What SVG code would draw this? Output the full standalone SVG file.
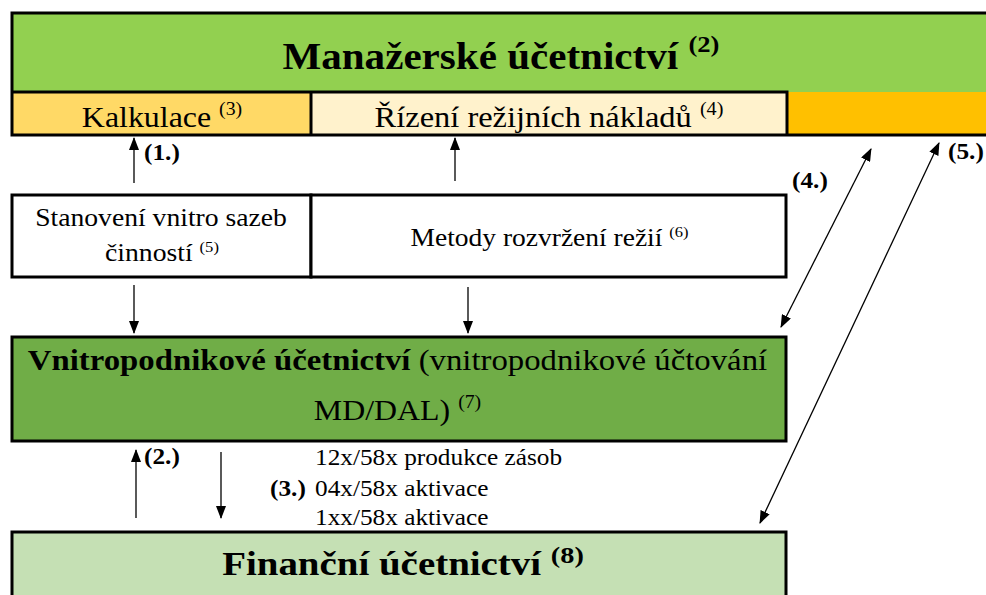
<svg xmlns="http://www.w3.org/2000/svg" width="986" height="595" viewBox="0 0 986 595">
<style>
.t{font-family:"Liberation Serif","Times New Roman",serif;fill:#000}
.b{font-weight:bold}
.bd{stroke:#000;stroke-width:3;fill:none;stroke-linecap:square}
.bx{stroke:#000;stroke-width:3}
.ar{stroke:#000;stroke-width:1.3;fill:none}
</style>
<defs>
<marker id="ah" markerWidth="13" markerHeight="10" refX="12" refY="5" orient="auto-start-reverse" markerUnits="userSpaceOnUse">
<path d="M0,0 L13,5 L0,10 z" fill="#000"/>
</marker>
</defs>
<rect width="986" height="595" fill="#fff"/>

<g id="manazerske">
<rect x="12" y="13" width="980" height="79" fill="#92D050"/>
<text class="t b" font-size="37" text-anchor="middle" transform="translate(501,69) scale(1.11,1)">Manažerské účetnictví <tspan font-size="24" dy="-17">(2)</tspan></text>
</g>
<g id="kalkulace">
<rect x="12" y="92" width="299" height="43" fill="#FFD966"/>
<text class="t" font-size="29" text-anchor="middle" transform="translate(162,127) scale(1.1,1)">Kalkulace <tspan font-size="18" dy="-12">(3)</tspan></text>
</g>
<g id="rizeni">
<rect x="311" y="92" width="476" height="43" fill="#FFF2CC"/>
<text class="t" font-size="29" text-anchor="middle" transform="translate(549,127) scale(1.12,1)">Řízení režijních nákladů <tspan font-size="18" dy="-12">(4)</tspan></text>
</g>
<g id="orange">
<rect x="787" y="92" width="200" height="43" fill="#FFC000"/>
</g>
<g id="top-borders">
<path class="bd" d="M12,13 H990 M12,13 V135 M12,92 H787 M12,135 H990 M311,92 V135 M787,92 V135"/>
</g>

<g id="stanoveni">
<rect x="12" y="195" width="299" height="82" fill="#fff" class="bx"/>
<text class="t" font-size="25" text-anchor="middle" transform="translate(161,226) scale(1.106,1)">Stanovení vnitro sazeb</text>
<text class="t" font-size="25" text-anchor="middle" transform="translate(162,261) scale(1.107,1)">činností <tspan font-size="15" dy="-9">(5)</tspan></text>
</g>
<g id="metody">
<rect x="311" y="195" width="475" height="82" fill="#fff" class="bx"/>
<text class="t" font-size="25" text-anchor="middle" transform="translate(549.5,246) scale(1.1,1)">Metody rozvržení režií <tspan font-size="15" dy="-9">(6)</tspan></text>
</g>

<g id="vnitropodnikove">
<rect x="12" y="337" width="774" height="104" fill="#70AD47" class="bx"/>
<text class="t" font-size="29" text-anchor="middle" transform="translate(397.5,370) scale(1.13,1)"><tspan font-weight="bold">Vnitropodnikové účetnictví</tspan> (vnitropodnikové účtování</text>
<text class="t" font-size="29" text-anchor="middle" transform="translate(397.5,420) scale(1.1,1)">MD/DAL) <tspan font-size="18" dy="-12">(7)</tspan></text>
</g>

<g id="ucty">
<text class="t" font-size="23" transform="translate(315,465) scale(1.1,1)">12x/58x produkce zásob</text>
<text class="t" font-size="23" transform="translate(315,496) scale(1.1,1)">04x/58x aktivace</text>
<text class="t" font-size="23" transform="translate(315,525) scale(1.1,1)">1xx/58x aktivace</text>
</g>

<g id="financni">
<rect x="12" y="532" width="774" height="80" fill="#C5E0B4" class="bx"/>
<text class="t b" font-size="33" text-anchor="middle" transform="translate(403,575) scale(1.18,1)">Finanční účetnictví <tspan font-size="24" dy="-12">(8)</tspan></text>
</g>

<g id="connectors">
<line class="ar" x1="134" y1="183" x2="134" y2="138" marker-end="url(#ah)"/>
<line class="ar" x1="455" y1="181" x2="455" y2="138" marker-end="url(#ah)"/>
<line class="ar" x1="134" y1="285" x2="134" y2="333" marker-end="url(#ah)"/>
<line class="ar" x1="468" y1="287" x2="468" y2="333" marker-end="url(#ah)"/>
<line class="ar" x1="136" y1="518" x2="136" y2="450" marker-end="url(#ah)"/>
<line class="ar" x1="221" y1="452" x2="221" y2="518" marker-end="url(#ah)"/>
<line class="ar" x1="871" y1="149" x2="781" y2="327" marker-start="url(#ah)" marker-end="url(#ah)"/>
<line class="ar" x1="939" y1="143" x2="760" y2="523" marker-start="url(#ah)" marker-end="url(#ah)"/>
</g>

<g id="labels">
<text class="t b" font-size="23" transform="translate(144,160) scale(1.1,1)">(1.)</text>
<text class="t b" font-size="23" transform="translate(144,464) scale(1.1,1)">(2.)</text>
<text class="t b" font-size="23" transform="translate(270,496) scale(1.1,1)">(3.)</text>
<text class="t b" font-size="23" transform="translate(792,188) scale(1.1,1)">(4.)</text>
<text class="t b" font-size="23" transform="translate(948,159) scale(1.1,1)">(5.)</text>
</g>
</svg>
